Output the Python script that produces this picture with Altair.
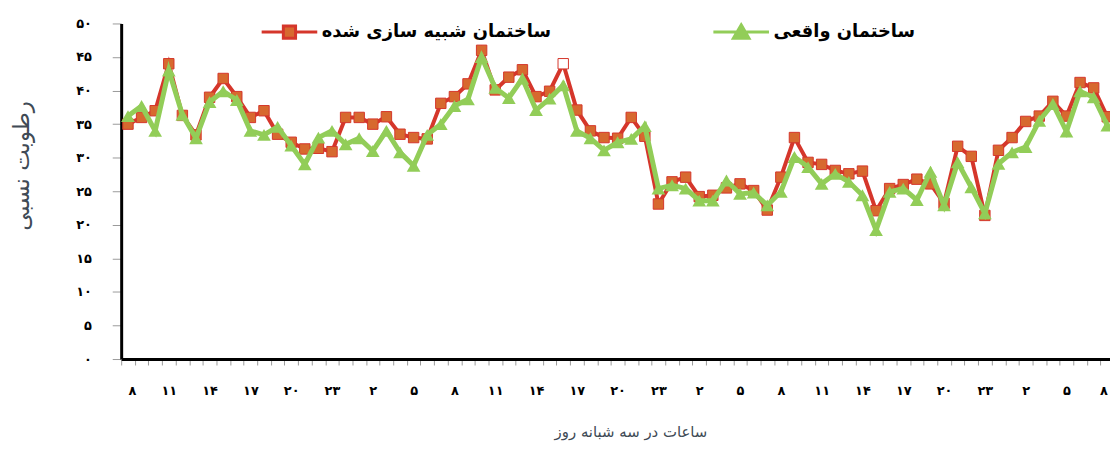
import json
import pandas as pd
import altair as alt

# ---------------- data ----------------
x_index = list(range(73))  # hourly readings, starting at 8 o'clock

simulated = [35.0, 36.0, 37.0, 44.0, 36.3, 33.4, 39.0, 41.8, 39.1, 36.0,
             37.0, 33.5, 32.3, 31.3, 31.4, 30.9, 36.0, 36.0, 35.0, 36.1,
             33.5, 33.0, 32.8, 38.1, 39.1, 41.0, 46.0, 40.1, 42.0, 43.1,
             39.1, 39.9, 44.0, 37.1, 34.0, 33.0, 32.9, 36.0, 33.2, 23.1,
             26.4, 27.1, 24.2, 24.4, 25.5, 26.1, 25.1, 22.2, 27.1, 33.0,
             29.3, 29.0, 28.1, 27.6, 28.0, 22.1, 25.4, 26.0, 26.8, 26.1,
             23.2, 31.7, 30.2, 21.4, 31.1, 33.0, 35.4, 36.2, 38.4, 36.2,
             41.2, 40.4, 36.1]

real = [36.2, 37.7, 34.0, 43.0, 36.4, 32.9, 38.3, 39.9, 38.6, 34.0,
        33.4, 34.6, 31.8, 29.0, 33.0, 34.0, 32.0, 32.9, 31.0, 34.0,
        30.8, 28.8, 33.4, 35.0, 37.7, 38.7, 45.0, 40.4, 38.9, 41.8,
        37.1, 38.8, 40.8, 34.0, 32.9, 31.1, 32.3, 32.8, 34.7, 25.4,
        25.9, 25.4, 23.6, 23.6, 26.6, 24.6, 24.8, 22.9, 24.9, 30.1,
        28.6, 26.1, 27.6, 26.4, 24.4, 19.2, 24.9, 25.4, 23.7, 27.9,
        22.9, 29.3, 25.6, 21.7, 29.1, 30.8, 31.6, 35.5, 38.0, 33.9,
        39.9, 39.0, 34.8]

x_tick_labels = ["۸", "۱۱", "۱۴", "۱۷", "۲۰", "۲۳", "۲", "۵",
                 "۸", "۱۱", "۱۴", "۱۷", "۲۰", "۲۳", "۲", "۵",
                 "۸", "۱۱", "۱۴", "۱۷", "۲۰", "۲۳", "۲", "۵", "۸"]
y_tick_values = [0, 5, 10, 15, 20, 25, 30, 35, 40, 45, 50]
y_tick_labels = ["۰", "۵", "۱۰", "۱۵", "۲۰", "۲۵", "۳۰", "۳۵", "۴۰", "۴۵", "۵۰"]

series_names = ["ساختمان شبیه سازی شده", "ساختمان واقعی"]
hollow_point = 32

x_title = "ساعات در سه شبانه روز"
y_title = "رطوبت نسبی"

# ---------------- styles ----------------
RED = "#D5362B"
ORANGE = "#D7692F"
GREEN = "#92CD58"
FONT = "DejaVu Sans"

df_sim = pd.DataFrame({"idx": x_index, "v": simulated})
df_real = pd.DataFrame({"idx": x_index, "v": real})
df_long = pd.DataFrame({
    "idx": x_index * 2,
    "v": simulated + real,
    "series": [series_names[0]] * len(x_index) + [series_names[1]] * len(x_index),
})

x_scale = alt.Scale(domain=[-0.5, 72.2], nice=False, zero=False)
y_scale = alt.Scale(domain=[0, 50], nice=False, zero=True)

tick_positions = [i - 0.5 for i in x_index]
label_positions = [i for i in x_index if i % 3 == 0]

x_axis_ticks = alt.Axis(
    orient="bottom",
    values=tick_positions, labels=False, grid=False,
    domainColor="black", domainWidth=3, tickColor="#9a9a9a", tickWidth=1,
    tickSize=6, title=x_title, titleFont=FONT, titleFontSize=15,
    titleFontWeight="normal", titleColor="#404a55", titleY=73,
    titleX=513, titleBaseline="middle",
)
x_axis_labels = alt.Axis(
    orient="bottom",
    values=label_positions, ticks=False, domain=False, grid=False,
    tickSize=0, labelExpr=f"{json.dumps(x_tick_labels)}[round(datum.value/3)]",
    labelFont=FONT, labelFontSize=13, labelFontWeight="bold",
    labelColor="black", labelPadding=32, labelBaseline="middle", title=None,
    labelFlush=10,
)
y_axis = alt.Axis(
    orient="left",
    values=y_tick_values, grid=False, domainColor="black", domainWidth=3,
    tickColor="#9a9a9a", tickWidth=1, tickSize=9, labelPadding=21,
    labelExpr=f"{json.dumps(y_tick_labels)}[round(datum.value/5)]",
    labelFont=FONT, labelFontSize=13, labelFontWeight="bold",
    labelColor="black", title=y_title, titleFont=FONT, titleFontSize=23,
    titleFontWeight="normal", titleColor="#404a55", titleX=-100, titleY=143,
    titleAngle=-90, titleBaseline="middle",
)

sim_line = alt.Chart(df_sim).mark_line(color=RED, strokeWidth=4).encode(
    x=alt.X("idx:Q", scale=x_scale, axis=x_axis_ticks),
    y=alt.Y("v:Q", scale=y_scale, axis=y_axis),
)
sim_pts = alt.Chart(df_sim).mark_point(
    shape="square", size=110, filled=True, opacity=1, stroke=RED, strokeWidth=1
).encode(
    x=alt.X("idx:Q", scale=x_scale, axis=x_axis_labels),
    y=alt.Y("v:Q", scale=y_scale, axis=None),
    fill=alt.condition(alt.datum.idx == hollow_point, alt.value("white"), alt.value(ORANGE)),
)
real_line = alt.Chart(df_real).mark_line(color=GREEN, strokeWidth=5).encode(
    x=alt.X("idx:Q", scale=x_scale, axis=None),
    y=alt.Y("v:Q", scale=y_scale, axis=None),
)
real_pts = alt.Chart(df_real).mark_point(
    shape="triangle-up", size=190, filled=True, opacity=1, color=GREEN
).encode(
    x=alt.X("idx:Q", scale=x_scale, axis=None),
    y=alt.Y("v:Q", scale=y_scale, axis=None),
)

legend_paths = [
    "M-1,0L-0.22,0M0.22,0L1,0M-0.22,-0.22L0.22,-0.22L0.22,0.22L-0.22,0.22Z",
    "M-1,0L1,0M0,-0.26L0.28,0.22L-0.28,0.22Z",
]
legend = alt.Legend(
    orient="none", legendX=140, legendY=-21, direction="horizontal",
    title=None, symbolSize=3136, symbolStrokeWidth=3,
    labelFont=FONT, labelFontSize=18, labelFontWeight="bold",
    labelColor="black", labelLimit=400, labelOffset=3, columnPadding=156,
)
legend_layer = alt.Chart(df_long).transform_filter(alt.datum.idx < 0).mark_point(
    filled=True, opacity=1
).encode(
    x=alt.X("idx:Q", scale=x_scale, axis=None),
    y=alt.Y("v:Q", scale=y_scale, axis=None),
    shape=alt.Shape("series:N", scale=alt.Scale(domain=series_names, range=legend_paths), legend=legend),
    fill=alt.Fill("series:N", scale=alt.Scale(domain=series_names, range=[ORANGE, GREEN]), legend=legend),
    stroke=alt.Stroke("series:N", scale=alt.Scale(domain=series_names, range=[RED, GREEN]), legend=legend),
)

chart = alt.layer(sim_line, sim_pts, real_line, real_pts, legend_layer).resolve_axis(
    x="independent", y="independent"
).properties(
    width=996, height=338,
    autosize=alt.AutoSizeParams(type="none"),
    padding={"left": 114, "top": 14, "right": 0, "bottom": 84},
).configure_view(stroke=None).configure_axis(labelOverlap=False)

chart.save("out.html", embed_options={"renderer": "svg", "actions": False})
